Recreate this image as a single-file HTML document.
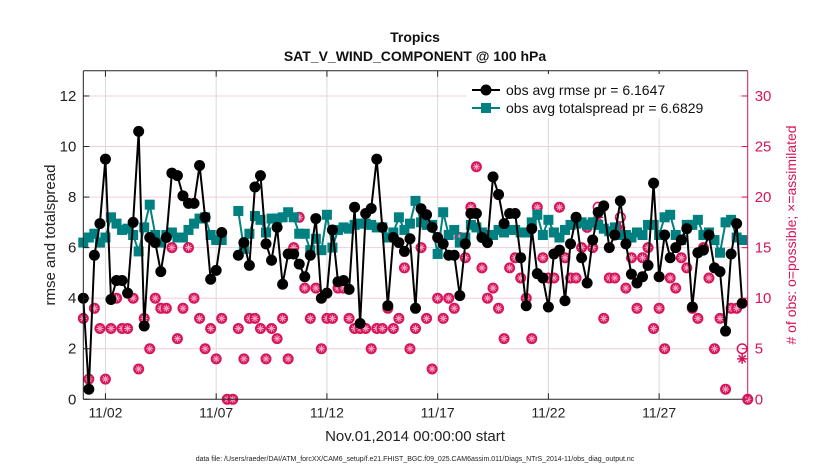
<!DOCTYPE html>
<html><head><meta charset="utf-8">
<style>
html,body{margin:0;padding:0;background:#fff;}
svg{display:block;font-family:"Liberation Sans",Arial,sans-serif;}
</style></head>
<body>
<svg id="chart" width="830" height="470" viewBox="0 0 830 470" xmlns="http://www.w3.org/2000/svg">
  <rect x="0" y="0" width="830" height="470" fill="#fff"/>
  <g id="grid"></g>
  <g id="series"></g>
  <g id="axes"></g>
  <text x="415" y="42" text-anchor="middle" font-size="14" font-weight="bold" fill="#111">Tropics</text>
  <text x="415" y="61" text-anchor="middle" font-size="14" font-weight="bold" fill="#111">SAT_V_WIND_COMPONENT @ 100 hPa</text>
  <text x="415" y="441" text-anchor="middle" font-size="15" fill="#222">Nov.01,2014 00:00:00 start</text>
  <text transform="translate(55,235) rotate(-90)" text-anchor="middle" font-size="15" fill="#222">rmse and totalspread</text>
  <text transform="translate(796,235) rotate(-90)" text-anchor="middle" font-size="14" fill="#d6145a"># of obs: o=possible; ×=assimilated</text>
  <text x="415" y="461" text-anchor="middle" font-size="7" fill="#222">data file: /Users/raeder/DAI/ATM_forcXX/CAM6_setup/f.e21.FHIST_BGC.f09_025.CAM6assim.011/Diags_NTrS_2014-11/obs_diag_output.nc</text>
  <g id="legend">
    <rect x="466" y="74" width="272" height="44" fill="#fff"/>
    <line x1="472" y1="90" x2="500" y2="90" stroke="#000" stroke-width="2"/>
    <circle cx="486" cy="90" r="5.5" fill="#000"/>
    <text x="506" y="95" font-size="14" fill="#111">obs avg rmse pr = 6.1647</text>
    <line x1="472" y1="108" x2="500" y2="108" stroke="#008080" stroke-width="2"/>
    <rect x="481" y="103" width="10" height="10" fill="#008080"/>
    <text x="506" y="113" font-size="14" fill="#111">obs avg totalspread pr = 6.6829</text>
  </g>
</svg>
<script>
// data: time index i -> day i*0.25 from Nov 1
const rmse = [4.0,0.4,5.7,6.95,9.5,3.95,4.7,4.7,4.2,7.0,10.6,2.9,6.4,6.2,5.05,6.4,8.95,8.85,8.05,7.75,7.75,9.25,7.2,4.75,5.1,6.6,null,null,5.7,6.2,5.3,8.4,8.85,6.15,5.5,6.8,4.55,5.75,5.75,5.35,4.85,5.7,7.15,4.0,4.2,6.7,4.65,4.7,4.35,7.6,3.0,7.35,7.55,9.5,6.8,3.7,6.4,6.2,5.85,6.35,3.6,7.54,7.3,6.8,6.4,6.15,5.7,5.7,4.1,6.15,7.35,7.35,6.4,6.2,8.8,8.1,6.95,7.35,7.35,5.6,3.7,6.75,4.97,4.8,3.65,5.75,5.9,3.9,6.15,7.2,5.6,4.6,6.3,7.4,7.65,6.0,6.5,7.85,6.15,4.95,4.6,4.85,5.3,8.55,4.85,6.5,5.6,6.0,6.3,6.75,3.65,5.8,5.9,6.5,5.2,5.05,2.7,5.75,6.95,3.8];
const spread = [6.2,6.4,6.55,6.2,6.4,7.2,6.95,6.7,6.75,6.5,5.85,6.8,7.7,6.5,6.2,6.5,6.6,6.4,6.4,6.7,6.95,7.15,7.2,6.5,6.3,6.3,null,null,7.45,5.95,6.55,7.25,7.1,6.6,7.15,7.15,7.2,7.4,7.2,6.55,6.55,5.9,6.35,5.9,7.3,6.0,6.7,6.8,6.75,6.9,6.95,6.95,6.9,6.8,6.8,6.4,6.6,7.2,6.7,6.95,7.85,7.0,6.9,6.9,5.75,7.4,6.5,6.7,6.2,6.4,6.9,6.8,6.6,6.5,6.5,6.7,6.6,6.7,6.7,6.6,6.6,7.0,7.3,6.5,7.1,6.6,6.4,6.7,6.9,6.95,7.0,6.9,7.0,6.9,6.75,6.65,6.8,6.5,6.5,6.4,6.6,6.5,6.9,6.9,6.5,7.2,7.3,6.5,6.3,6.9,6.9,7.1,6.5,6.6,6.3,5.8,7.0,7.1,6.4,6.3];
const possible = [8,2,9,7,2,7,10,7,7,10,3,8,5,10,9,9,15,6,9,15,10,8,5,7,4,8,0,0,7,4,8,8,7,4,7,6,8,4,15,18,11,8,11,5,8,8,11,11,8,7,7,7,5,7,7,9,7,8,13,5,7,15,8,3,10,8,10,9,16,14,19,23,13,10,11,9,6,13,14,12,10,6,19,14,12,12,19,14,12,12,15,17,15,19,8,12,12,18,11,14,9,14,15,7,9,5,12,11,14,13,9,8,15,12,5,8,1,9,9,5,0];
const assimilated = [8,2,9,7,2,7,10,7,7,10,3,8,5,10,9,9,15,6,9,15,10,8,5,7,4,8,0,0,7,4,8,8,7,4,7,6,8,4,15,18,11,8,11,5,8,8,11,11,8,7,7,7,5,7,7,9,7,8,13,5,7,15,8,3,10,8,10,9,16,14,19,23,13,10,11,9,6,13,14,12,10,6,19,14,12,12,19,14,12,12,15,17,15,18,8,12,12,17,11,14,9,14,15,7,9,5,12,11,14,13,9,8,15,12,5,8,1,9,9,4,0];
const xTickDays = [1,6,11,16,21,26];
const xTickLabels = ["11/02","11/07","11/12","11/17","11/22","11/27"];
const yTicks = [0,2,4,6,8,10,12];
const y2Ticks = [0,5,10,15,20,25,30];

const L=83.3,R=747.7,T=70.7,B=399.3;
const X0=0,X1=30,Y0=0,Y1=13,Y2max=32.5;
const sx=d=>L+(d-X0)/(X1-X0)*(R-L);
const sy=v=>B-(v-Y0)/(Y1-Y0)*(B-T);
const sy2=c=>B-c/Y2max*(B-T);
const dayOf=i=>i*0.25;
const NS='http://www.w3.org/2000/svg';
function mk(tag,attrs,parent){const e=document.createElementNS(NS,tag);for(const k in attrs)e.setAttribute(k,attrs[k]);parent.appendChild(e);return e;}
const grid=document.getElementById('grid'),ser=document.getElementById('series'),ax=document.getElementById('axes');
const PINK='#d6145a';

// grid
xTickDays.forEach((d,k)=>{
  const g=mk('line',{x1:sx(d),x2:sx(d),y1:T,y2:B,stroke:'#d9d9d9','stroke-width':1},grid);
  
  
});
y2Ticks.forEach(c=>{
  if(c===0)return;
  const g=mk('line',{x1:L,x2:R,y1:sy2(c),y2:sy2(c),stroke:'#f3cddc','stroke-width':1},grid);
  
  
});

// count markers
function star(cx,cy,r,parent,col,w){
  for(let a=0;a<4;a++){const t=a*Math.PI/4;
    mk('line',{x1:cx-r*Math.cos(t),y1:cy-r*Math.sin(t),x2:cx+r*Math.cos(t),y2:cy+r*Math.sin(t),stroke:col,'stroke-width':w},parent);}
}
possible.forEach((c,i)=>{
  const g=mk('g',{},ser);
  
  
  const a=assimilated[i];
  const cx=sx(dayOf(i));
  if(a===c){
    mk('circle',{cx:cx,cy:sy2(c),r:5.5,fill:PINK},g);
    star(cx,sy2(c),3.6,g,'#f5a6c4',1);
  }else{
    mk('circle',{cx:cx,cy:sy2(c),r:4.8,fill:'none',stroke:PINK,'stroke-width':1.5},g);
    star(cx,sy2(a),5,g,PINK,1.5);
  }
});

// series lines
function drawLine(vals,color,name){
  let d='',pen=false;
  vals.forEach((v,i)=>{
    if(v===null){pen=false;return;}
    d+=(pen?'L':'M')+sx(dayOf(i)).toFixed(1)+' '+sy(v).toFixed(1)+' ';pen=true;
  });
  const p=mk('path',{d:d,fill:'none',stroke:color,'stroke-width':2,'stroke-linejoin':'round'},ser);
  
  
}
drawLine(spread,'#008080','totalspread-line');
spread.forEach((v,i)=>{
  if(v===null)return;
  const r=mk('rect',{x:sx(dayOf(i))-5,y:sy(v)-5,width:10,height:10,fill:'#008080'},ser);
  
  
});
drawLine(rmse,'#000','rmse-line');
rmse.forEach((v,i)=>{
  if(v===null)return;
  const c=mk('circle',{cx:sx(dayOf(i)),cy:sy(v),r:5.5,fill:'#000'},ser);
  
  
});

// axes
mk('line',{x1:L,x2:R,y1:T,y2:T,stroke:'#222','stroke-width':1},ax);
mk('line',{x1:L,x2:R,y1:B,y2:B,stroke:'#222','stroke-width':1},ax);
mk('line',{x1:L,x2:L,y1:T,y2:B,stroke:'#222','stroke-width':1},ax);
mk('line',{x1:R,x2:R,y1:T,y2:B,stroke:PINK,'stroke-width':1},ax);
xTickDays.forEach((d,k)=>{
  mk('line',{x1:sx(d),x2:sx(d),y1:B,y2:B-6,stroke:'#222'},ax);
  mk('line',{x1:sx(d),x2:sx(d),y1:T,y2:T+6,stroke:'#222'},ax);
  const t=mk('text',{x:sx(d),y:B+18,'text-anchor':'middle','font-size':14,fill:'#222'},ax);
  t.textContent=xTickLabels[k];
  
  
});
yTicks.forEach(v=>{
  mk('line',{x1:L,x2:L+6,y1:sy(v),y2:sy(v),stroke:'#222'},ax);
  const t=mk('text',{x:L-7,y:sy(v)+5,'text-anchor':'end','font-size':15,fill:'#222'},ax);
  t.textContent=v;
  
  
});
y2Ticks.forEach(c=>{
  mk('line',{x1:R-6,x2:R,y1:sy2(c),y2:sy2(c),stroke:PINK},ax);
  const t=mk('text',{x:R+7,y:sy2(c)+5,'font-size':15,fill:PINK},ax);
  t.textContent=c;
  
  
});
</script>
</body></html>
